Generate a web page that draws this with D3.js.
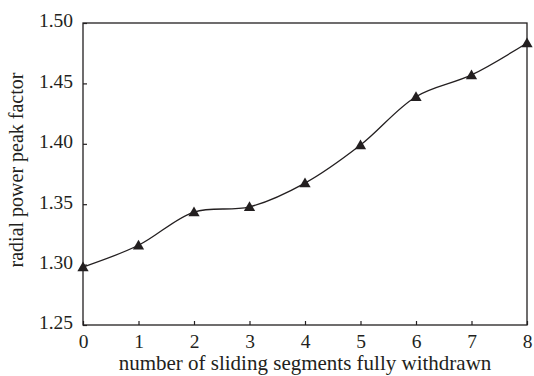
<!DOCTYPE html>
<html>
    <head>
        <script src="https://d3js.org/d3.v7.min.js"></script>
        <style>
            body { margin: 0; background: #fff; }
            text { font-family: "Liberation Serif", "Times New Roman", serif; fill: #231f20; }
        </style>
    </head>
    <body>
        <div id="chart-container"></div>
        <script>
            // Data
            var segments = [0, 1, 2, 3, 4, 5, 6, 7, 8];
            var peakFactor = [1.298, 1.316, 1.3435, 1.3478, 1.3675, 1.399, 1.439, 1.457, 1.4835];
            var xTicks = [0, 1, 2, 3, 4, 5, 6, 7, 8];
            var yTicks = [1.25, 1.30, 1.35, 1.40, 1.45, 1.50];

            var margin = {top: 23, right: 7, bottom: 51, left: 83},
                width = 534 - margin.left - margin.right,
                height = 376 - margin.top - margin.bottom;

            var svg = d3.select("#chart-container")
                .append("svg")
                    .attr("width", 534)
                    .attr("height", 376)
                .append("g")
                    .attr("transform", "translate(" + margin.left + "," + margin.top + ")");

            var x = d3.scaleLinear().domain([0, 8]).range([0, width]);
            var y = d3.scaleLinear().domain([1.25, 1.50]).range([height, 0]);

            // frame
            svg.append("rect")
                .attr("width", width)
                .attr("height", height)
                .attr("fill", "none")
                .attr("stroke", "#231f20")
                .attr("stroke-width", 1.3);

            // X axis
            var xAxis = svg.append("g")
                .attr("transform", "translate(0," + height + ")")
                .call(d3.axisBottom(x).tickValues(xTicks).tickSize(-4).tickPadding(9).tickFormat(d3.format("d")));
            xAxis.select(".domain").remove();
            xAxis.selectAll("line").attr("stroke", "#231f20").attr("stroke-width", 1.2);
            xAxis.selectAll("text").attr("font-size", 19.5).attr("dy", "0.71em").attr("fill", "#231f20");

            // Y axis
            var yAxis = svg.append("g")
                .call(d3.axisLeft(y).tickValues(yTicks).tickSize(-4).tickPadding(10).tickFormat(d3.format(".2f")));
            yAxis.select(".domain").remove();
            yAxis.selectAll("line").attr("stroke", "#231f20").attr("stroke-width", 1.2);
            yAxis.selectAll("text").attr("font-size", 19.5).attr("dy", "0.2em").attr("fill", "#231f20");

            // axis titles
            svg.append("text")
                .attr("text-anchor", "middle")
                .attr("x", width / 2)
                .attr("y", height + 45)
                .attr("font-size", 21)
                .text("number of sliding segments fully withdrawn");

            svg.append("text")
                .attr("text-anchor", "middle")
                .attr("transform", "rotate(-90)")
                .attr("x", -height / 2 + 4)
                .attr("y", -margin.left + 23)
                .attr("font-size", 20)
                .text("radial power peak factor");

            // line
            var line = d3.line()
                .x(function(d, i) { return x(segments[i]); })
                .y(function(d) { return y(d); })
                .curve(d3.curveCatmullRom.alpha(0.5));

            svg.append("path")
                .datum(peakFactor)
                .attr("d", line)
                .attr("fill", "none")
                .attr("stroke", "#231f20")
                .attr("stroke-width", 1.3);

            // markers
            svg.selectAll("marker-tri")
                .data(peakFactor)
                .enter()
                .append("path")
                    .attr("d", d3.symbol().type(d3.symbolTriangle).size(55))
                    .attr("transform", function(d, i) { return "translate(" + x(segments[i]) + "," + (y(d) + 1) + ")"; })
                    .attr("fill", "#231f20");
        </script>
    </body>
</html>
